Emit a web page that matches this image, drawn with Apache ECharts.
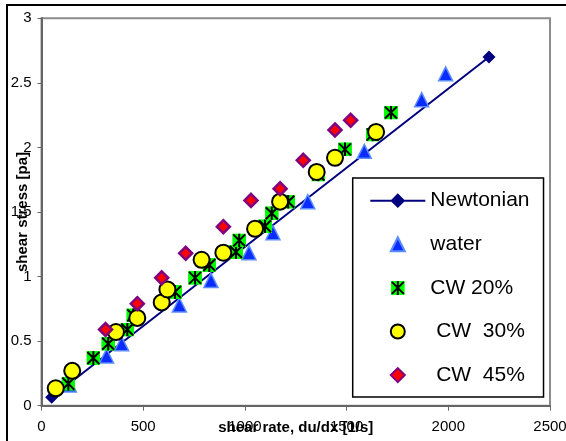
<!DOCTYPE html>
<html>
<head>
<meta charset="utf-8">
<script src="https://cdn.jsdelivr.net/npm/echarts@6/dist/echarts.min.js"></script>
<style>html,body{margin:0;padding:0;background:#fff;}#chart{width:566px;height:441px;}</style>
</head>
<body>
<div id="chart"></div>
<script>
// ---- data ----
const xTicks = [0, 500, 1000, 1500, 2000, 2500];
const yTicks = [0, 0.5, 1, 1.5, 2, 2.5, 3];
const seriesNames = ['Newtonian', 'water', 'CW 20%', ' CW  30%', ' CW  45%'];
const newtonian = [[50, 0.065], [2200, 2.7]];
const water = [[137, 0.16], [320, 0.385], [394, 0.48], [678, 0.78], [833, 0.97], [1020, 1.185],
  [1138, 1.34], [1309, 1.58], [1587, 1.97], [1869, 2.37], [1987, 2.57]];
const cw20 = [[132, 0.17], [255, 0.37], [328, 0.48], [422, 0.59], [451, 0.70], [656, 0.88], [755, 0.99],
  [825, 1.09], [956, 1.19], [972, 1.28], [1099, 1.39], [1132, 1.49], [1213, 1.58], [1361, 1.79],
  [1492, 1.985], [1628, 2.10], [1718, 2.27]];
const cw30 = [[70, 0.135], [151, 0.27], [366, 0.57], [471, 0.68], [591, 0.80], [619, 0.90], [787, 1.13],
  [894, 1.185], [1050, 1.37], [1173, 1.58], [1353, 1.81], [1443, 1.92], [1645, 2.12]];
const cw45 = [[315, 0.59], [471, 0.79], [591, 0.99], [709, 1.18], [894, 1.386], [1030, 1.59], [1173, 1.68],
  [1287, 1.90], [1443, 2.135], [1520, 2.21]];

// ---- styling ----
const FONT = "'Liberation Sans', Arial, sans-serif";
const starSvg = "<svg xmlns='http://www.w3.org/2000/svg' width='14' height='14' viewBox='0 0 14 14'>" +
  "<rect x='0' y='0' width='14' height='14' fill='#00ff00'/>" +
  "<path d='M1,1L13,13M13,1L1,13M7,0L7,14' stroke='#000000' stroke-width='2' fill='none'/></svg>";
const starSymbol = 'image://data:image/svg+xml;charset=utf-8,' + encodeURIComponent(starSvg);
const triSymbol = 'path://M5,0L10,10L0,10Z';
const diaSymbol = 'path://M5,0L10,5L5,10L0,5Z';
const newtonLegendIcon = 'path://M0,7L55,7M27.5,1L33.5,7L27.5,13L21.5,7Z';
const plainNumber = v => String(v);

const chart = echarts.init(document.getElementById('chart'), null, {renderer: 'canvas'});
chart.setOption({
  backgroundColor: '#ffffff',
  animation: false,
  textStyle: {fontFamily: FONT},
  graphic: [{
    type: 'rect', silent: true, z: -10,
    shape: {x: 7, y: 5, width: 620, height: 520},
    style: {fill: 'none', stroke: '#000000', lineWidth: 2}
  }],
  grid: {left: 41.5, right: 16, top: 18.3, bottom: 35.3, show: true, borderColor: '#8c8c8c', borderWidth: 2,
    backgroundColor: 'transparent', containLabel: false, outerBoundsMode: 'none'},
  xAxis: {
    type: 'value', min: xTicks[0], max: xTicks[xTicks.length - 1], interval: xTicks[1] - xTicks[0],
    name: 'shear rate, du/dx [1/s]', nameLocation: 'middle', nameGap: 15, nameMoveOverlap: false,
    nameTextStyle: {fontFamily: FONT, fontSize: 15, fontWeight: 'bold', color: '#000'},
    axisLine: {show: true, lineStyle: {color: '#666666', width: 2}},
    axisTick: {show: true, length: 5, lineStyle: {color: '#666666', width: 1}},
    axisLabel: {fontFamily: FONT, fontSize: 15, color: '#000', margin: 14, hideOverlap: false, formatter: plainNumber},
    splitLine: {show: false}
  },
  yAxis: {
    type: 'value', min: yTicks[0], max: yTicks[yTicks.length - 1], interval: yTicks[1] - yTicks[0],
    name: 'shear stress [pa]', nameLocation: 'middle', nameGap: 11, nameRotate: 90, nameMoveOverlap: false,
    nameTextStyle: {fontFamily: FONT, fontSize: 15, fontWeight: 'bold', color: '#000'},
    axisLine: {show: true, lineStyle: {color: '#666666', width: 2}},
    axisTick: {show: true, length: 4, lineStyle: {color: '#666666', width: 1}},
    axisLabel: {fontFamily: FONT, fontSize: 15, color: '#000', margin: 10, hideOverlap: false, formatter: plainNumber},
    splitLine: {show: false}
  },
  legend: {
    orient: 'vertical', left: 352.7, top: 178,
    data: [
      {name: seriesNames[0], icon: newtonLegendIcon, itemStyle: {color: '#000080', borderColor: '#000080', borderWidth: 2}},
      {name: seriesNames[1]}, {name: seriesNames[2]}, {name: seriesNames[3]}, {name: seriesNames[4]}
    ],
    itemWidth: 55, itemHeight: 14, itemGap: 22.6, symbolKeepAspect: true,
    padding: [12.2, 14, 11.5, 16.6],
    backgroundColor: '#ffffff', borderColor: '#000000', borderWidth: 1.5, borderRadius: 0,
    textStyle: {fontFamily: FONT, fontSize: 21, color: '#000'}
  },
  series: [
    {
      name: seriesNames[0], type: 'line', data: newtonian,
      symbol: 'diamond', symbolSize: 13, showSymbol: true, z: 2,
      lineStyle: {color: '#000080', width: 2},
      itemStyle: {color: '#000080'}
    },
    {
      name: seriesNames[1], type: 'scatter', data: water,
      symbol: triSymbol, symbolSize: 14, symbolKeepAspect: true, z: 3,
      itemStyle: {color: '#0a2cff', borderColor: '#5a8cff', borderWidth: 1.5, opacity: 1}
    },
    {
      name: seriesNames[2], type: 'scatter', data: cw20,
      symbol: starSymbol, symbolSize: 14, symbolKeepAspect: true, z: 4,
      itemStyle: {color: '#00ff00', opacity: 1}
    },
    {
      name: seriesNames[3], type: 'scatter', data: cw30,
      symbol: 'circle', symbolSize: 16, z: 5,
      itemStyle: {color: '#ffff00', borderColor: '#000000', borderWidth: 2, opacity: 1}
    },
    {
      name: seriesNames[4], type: 'scatter', data: cw45,
      symbol: diaSymbol, symbolSize: 13, symbolKeepAspect: true, z: 6,
      itemStyle: {color: '#ff0000', borderColor: '#800080', borderWidth: 2.5, opacity: 1}
    }
  ]
});
</script>
</body>
</html>
